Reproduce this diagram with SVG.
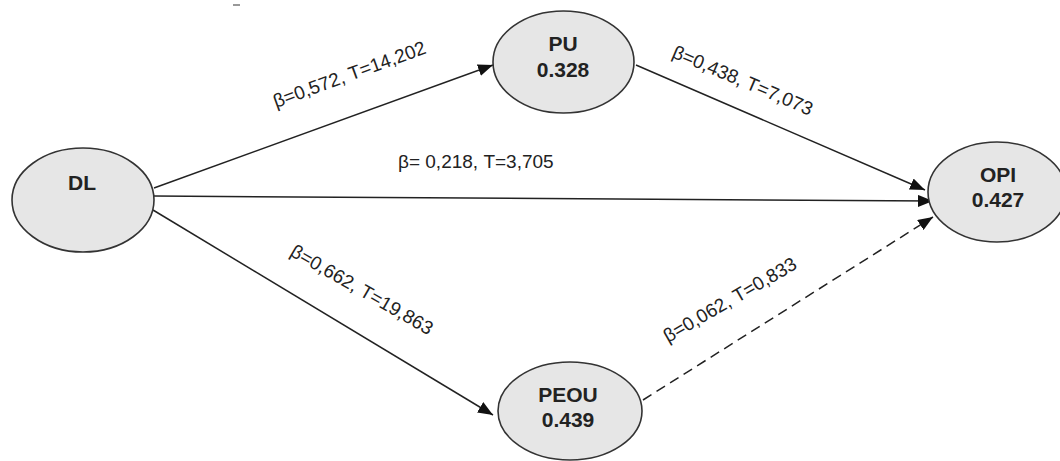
<svg xmlns="http://www.w3.org/2000/svg" width="1060" height="461" viewBox="0 0 1060 461">
<defs>
<style>
.node ellipse{fill:#e6e6e6;stroke:#333;stroke-width:1.6}
.node text{font-family:"Liberation Sans",Arial,sans-serif;font-weight:bold;font-size:21px;fill:#222;text-anchor:middle}
.edge{stroke:#222;stroke-width:1.5;fill:none;marker-end:url(#arr)}
.dash{stroke-dasharray:10 6}
.lbl{font-family:"Liberation Sans",Arial,sans-serif;font-size:19px;fill:#222}
</style>
<marker id="arr" markerUnits="userSpaceOnUse" markerWidth="15" markerHeight="12" refX="15" refY="6" orient="auto">
<path d="M0,0 L15,6 L0,12 z" fill="#111"/>
</marker>
</defs>
<rect width="1060" height="461" fill="#fff"/>
<rect x="233" y="4" width="7" height="2" fill="#999"/>
<g id="connectors">
<line class="edge" x1="154" y1="188" x2="493" y2="65"/>
<line class="edge" x1="154" y1="196" x2="933" y2="201"/>
<line class="edge" x1="153" y1="210" x2="493" y2="415"/>
<line class="edge" x1="636" y1="65" x2="925" y2="190"/>
<line class="edge dash" x1="643" y1="400" x2="933" y2="217"/>
<text class="lbl" transform="translate(276,108) rotate(-20)">β=0,572, T=14,202</text>
<text class="lbl" x="398" y="168">β= 0,218, T=3,705</text>
<text class="lbl" transform="translate(671,57) rotate(23)">β=0,438, T=7,073</text>
<text class="lbl" transform="translate(289,255) rotate(30)">β=0,662, T=19,863</text>
<text class="lbl" transform="translate(668,343) rotate(-30)">β=0,062, T=0,833</text>
</g>
<g id="DL" class="node">
<ellipse cx="83" cy="200" rx="71" ry="52"/>
<text x="82" y="190">DL</text>
</g>
<g id="PU" class="node">
<ellipse cx="563.5" cy="62" rx="70.5" ry="51"/>
<text x="563" y="51">PU</text>
<text x="563" y="77">0.328</text>
</g>
<g id="OPI" class="node">
<ellipse cx="997" cy="192" rx="69" ry="50"/>
<text x="998" y="182">OPI</text>
<text x="998" y="207">0.427</text>
</g>
<g id="PEOU" class="node">
<ellipse cx="570" cy="411" rx="72" ry="49"/>
<text x="568" y="402">PEOU</text>
<text x="568" y="427">0.439</text>
</g>
</svg>
